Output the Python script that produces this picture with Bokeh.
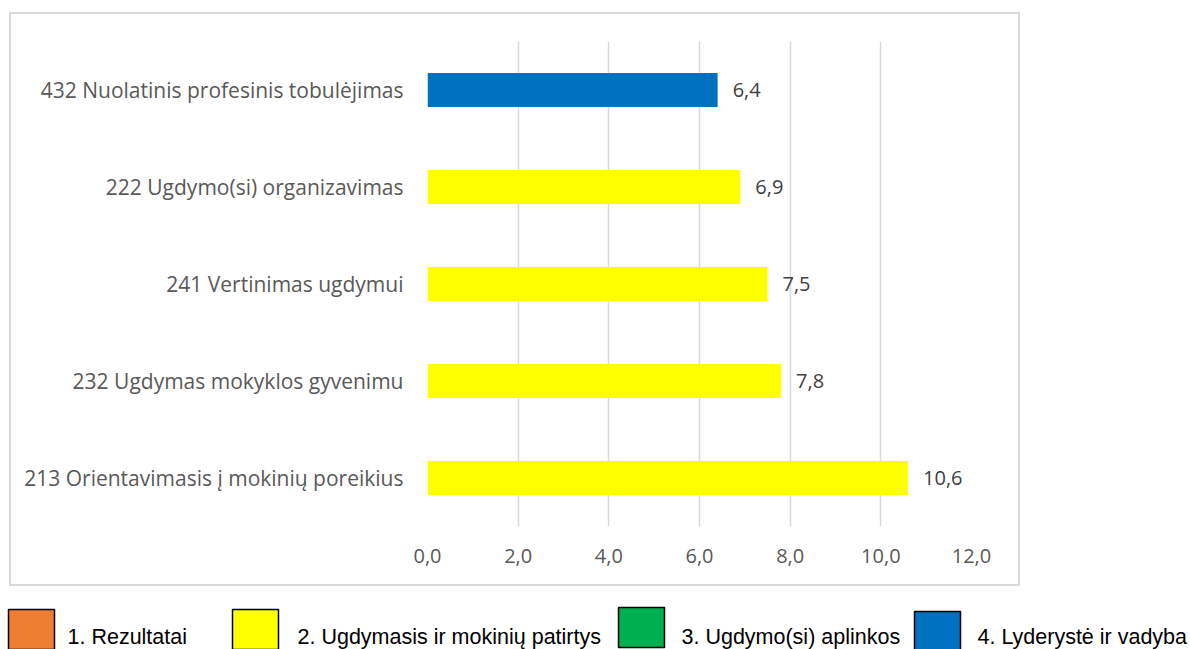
from bokeh.plotting import figure
from bokeh.models import (Range1d, FactorRange, FixedTicker, CustomJSTickFormatter,
                          ColumnDataSource)
from bokeh.core.properties import value
from bokeh.embed import file_html
from bokeh.resources import INLINE

# ---- data ----
categories = [
    "432 Nuolatinis profesinis tobulėjimas",
    "222 Ugdymo(si) organizavimas",
    "241 Vertinimas ugdymui",
    "232 Ugdymas mokyklos gyvenimu",
    "213 Orientavimasis į mokinių poreikius",
]
values = [6.4, 6.9, 7.5, 7.8, 10.6]
groups = [4, 2, 2, 2, 2]
x_ticks = [0, 2, 4, 6, 8, 10, 12]
legend_names = ["1. Rezultatai", "2. Ugdymasis ir mokinių patirtys",
                "3. Ugdymo(si) aplinkos", "4. Lyderystė ir vadyba"]
legend_groups = [1, 2, 3, 4]
group_colors = {1: "#ED7D31", 2: "#FFFF00", 3: "#00B050", 4: "#0070C0"}

FONT = "Open Sans"

# ---- chart (with light grey border) ----
p = figure(width=1011, height=574, output_backend="svg", toolbar_location=None,
           y_range=FactorRange(*reversed(categories)),
           x_range=Range1d(0, 12),
           min_border_left=416, min_border_right=51,
           min_border_top=27, min_border_bottom=62,
           margin=(12, 0, 0, 9),
           styles={"border": "2px solid #D9D9D9"})
p.outline_line_color = None
p.border_fill_color = None

src = ColumnDataSource(dict(
    cat=categories, val=values,
    color=[group_colors[g] for g in groups],
    lab=[f"{v:.1f}".replace(".", ",") for v in values],
))
p.hbar(y="cat", right="val", left=0, height=0.35, color="color",
       line_color=None, source=src)
p.text(x="val", y="cat", text="lab", source=src, x_offset=15,
       text_baseline="middle", text_align="left",
       text_font=value(FONT), text_font_size="20px", text_color="#404040")

xa = p.xaxis[0]
xa.ticker = FixedTicker(ticks=x_ticks)
xa.formatter = CustomJSTickFormatter(code="return tick.toFixed(1).replace('.', ',');")
xa.axis_line_color = None
xa.major_tick_line_color = None
xa.minor_tick_line_color = None
xa.major_label_standoff = 16
xa.major_label_text_font = FONT
xa.major_label_text_font_size = "20px"
xa.major_label_text_color = "#595959"

ya = p.yaxis[0]
ya.axis_line_color = None
ya.major_tick_line_color = None
ya.minor_tick_line_color = None
ya.major_label_standoff = 18
ya.major_label_text_font = FONT
ya.major_label_text_font_size = "21px"
ya.major_label_text_color = "#595959"

p.xgrid.grid_line_color = "#D9D9D9"
p.xgrid.grid_line_width = 1.5
p.ygrid.grid_line_color = None

# ---- legend strip below the chart (separate root, not frame-aligned) ----
LW, LH = 1190, 63
lg = figure(width=LW, height=LH, output_backend="svg", toolbar_location=None,
            x_range=Range1d(0, LW), y_range=Range1d(LH, 0),
            x_axis_type=None, y_axis_type=None,
            min_border=0, min_border_left=0, min_border_right=0,
            min_border_top=0, min_border_bottom=0)
lg.outline_line_color = None
lg.xgrid.visible = False
lg.ygrid.visible = False

sq_left = [8, 232, 618, 914]
sq_top = [23, 23, 21, 25]
txt_x = [67, 297, 681, 977]
lsrc = ColumnDataSource(dict(
    left=sq_left, right=[v + 46 for v in sq_left],
    top=sq_top, bottom=[v + 40 for v in sq_top],
    color=[group_colors[g] for g in legend_groups],
    tx=txt_x, ty=[50] * 4, name=legend_names,
))
lg.quad(left="left", right="right", top="top", bottom="bottom",
        fill_color="color", line_color="black", line_width=1.5, source=lsrc)
lg.text(x="tx", y="ty", text="name", source=lsrc,
        text_baseline="middle", text_align="left",
        text_font=value("Liberation Sans"), text_font_size="21.5px",
        text_color="black")

open("out.html", "w").write(file_html([p, lg], INLINE))
